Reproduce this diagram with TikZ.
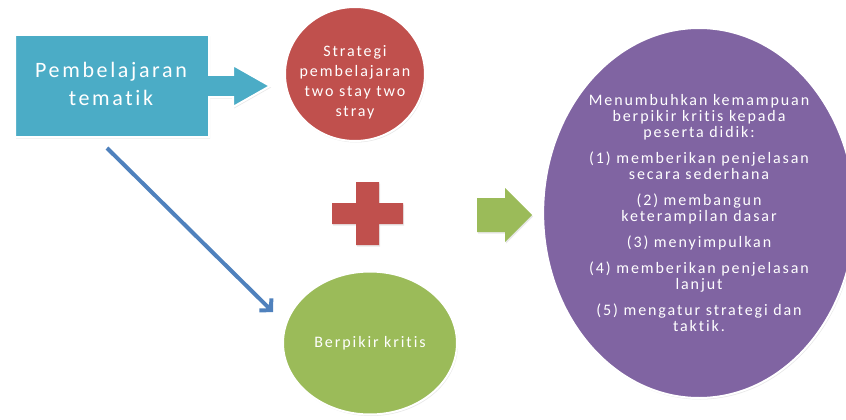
\documentclass[tikz,border=0pt]{standalone}
\usepackage{fontspec}
\setmainfont{Carlito}[LetterSpace=12, Ligatures=NoCommon]
\usetikzlibrary{shapes.geometric,arrows.meta,shadows}

\definecolor{tealfill}{HTML}{4BACC6}
\definecolor{redfill}{HTML}{C0504D}
\definecolor{greenfill}{HTML}{9BBB59}
\definecolor{purplefill}{HTML}{8064A2}
\definecolor{bluearrow}{HTML}{4F81BD}

\tikzset{
  softshadow/.style={drop shadow={opacity=0.18, shadow xshift=1pt, shadow yshift=-1.5pt}},
  blob/.style={ellipse, draw=white, line width=2pt, inner sep=0pt, softshadow},
  blobtext/.style={text=white, align=center},
}

\begin{document}
\begin{tikzpicture}[x=1pt, y=-1pt]
  \useasboundingbox (0,0) rectangle (846,420);
  % kotak tematik dengan panah
  \filldraw[fill=tealfill, draw=white, line width=2pt, softshadow]
    (15,35) -- (209,35) -- (209,75) -- (233,75) -- (233,65) -- (270,86)
    -- (233,107) -- (233,97) -- (209,97) -- (209,137) -- (15,137) -- cycle;
  \node[blobtext, font=\fontsize{22}{28}\selectfont] (tema) at (111,84) {Pembelajaran\\tematik};

  % lingkaran
  \node[blob, fill=redfill, minimum width=140pt, minimum height=134pt] (strategi) at (355,74) {};
  \node[blobtext, font=\fontsize{16}{20}\selectfont] (strategiteks) at (355,82)
    {Strategi\\pembelajaran\\two stay two\\stray};
  \node[blob, fill=greenfill, minimum width=174pt, minimum height=143pt, blobtext,
    font=\fontsize{16}{20}\selectfont] (kritis) at (370,343) {Berpikir kritis};
  \node[blob, fill=purplefill, minimum width=290pt, minimum height=370pt, blobtext,
    font=\fontsize{16}{16}\selectfont] (hasil) at (699,213)
    {Menumbuhkan kemampuan\\berpikir kritis kepada\\peserta didik:\\[10pt]
     (1) memberikan penjelasan\\secara sederhana\\[10pt]
     (2) membangun\\keterampilan dasar\\[10pt]
     (3) menyimpulkan\\[10pt]
     (4) memberikan penjelasan\\lanjut\\[10pt]
     (5) mengatur strategi dan\\taktik.};

  % tanda tambah dan panah hijau
  \fill[redfill, softshadow] (356,182) -- (379,182) -- (379,203) -- (403,203) -- (403,224)
    -- (379,224) -- (379,245) -- (356,245) -- (356,224) -- (332,224) -- (332,203)
    -- (356,203) -- cycle;
  \fill[greenfill, softshadow] (477,198) -- (505,198) -- (505,188) -- (532,215)
    -- (505,242) -- (505,232) -- (477,232) -- cycle;

  \coordinate (panah1) at (107,148);
  \coordinate (panah2) at (273,312);
  \draw[bluearrow, line width=4pt, -{Straight Barb[length=8pt, width=17pt]}] (panah1) -- (panah2);
\end{tikzpicture}
\end{document}
